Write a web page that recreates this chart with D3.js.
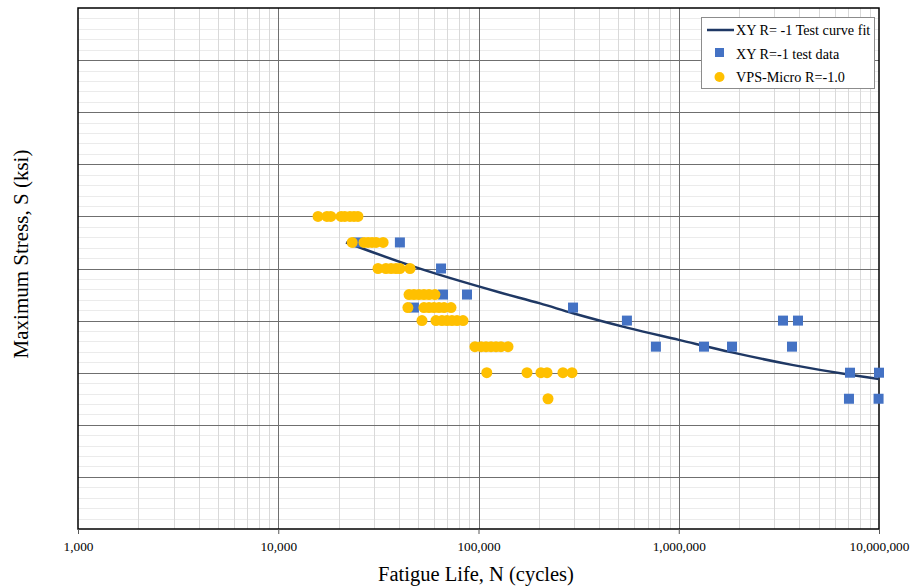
<!DOCTYPE html>
<html>
<head>
<meta charset="utf-8">
<script src="https://cdn.jsdelivr.net/npm/d3@7"></script>
<style>
  html, body { margin: 0; padding: 0; background: #fff; }
  svg { display: block; font-family: "Liberation Serif", "Times New Roman", serif; }
</style>
</head>
<body>
<svg id="chart" width="911" height="587"></svg>
<script>
// ---- Data ----
const xTickValues = [1000, 10000, 100000, 1000000, 10000000];

// XY R=-1 test curve fit
const curveN = [21800, 45500, 128000, 203000, 296500, 557000, 1000000, 1845000, 3677000, 7165000, 10000000];
const curveS = [55.0, 50.6, 45.4, 43.3, 41.4, 38.6, 36.3, 33.9, 31.5, 29.6, 28.8];

// XY R=-1 test data
const blueN = [25000, 40500, 65000, 66500, 87600, 47600, 296500, 551000, 769000, 1337000, 1845000, 3316000, 3939000, 3677000, 7165000, 10000000, 7080000, 9950000];
const blueS = [55, 55, 50, 45, 45, 42.5, 42.5, 40, 35, 35, 35, 40, 40, 35, 30, 30, 25, 25];

// VPS-Micro R=-1.0
const yellowN = [
  15800, 17500, 18300, 20600, 21500, 22800, 23900, 25000,
  23400, 26800, 28100, 29400, 30800, 33400,
  31500, 34500, 36600, 38700, 40500, 45500,
  45000, 47600, 50400, 53400, 56600, 60600,
  44400, 53400, 56600, 59900, 63500, 67300, 72900,
  52200, 61300, 65700, 69600, 73700, 78100, 83700,
  96000, 103000, 109000, 115500, 122300, 129500, 140400,
  110000, 174700, 205000, 219900, 264000, 293000,
  222400
];
const yellowS = [
  60, 60, 60, 60, 60, 60, 60, 60,
  55, 55, 55, 55, 55, 55,
  50, 50, 50, 50, 50, 50,
  45, 45, 45, 45, 45, 45,
  42.5, 42.5, 42.5, 42.5, 42.5, 42.5, 42.5,
  40, 40, 40, 40, 40, 40, 40,
  35, 35, 35, 35, 35, 35, 35,
  30, 30, 30, 30, 30, 30,
  25
];

const legendLabels = ["XY R= -1 Test curve fit", "XY R=-1 test data", "VPS-Micro R=-1.0"];

// ---- Layout ----
const svg = d3.select("#chart");
const m = { left: 78, right: 879, top: 8, bottom: 529 };
const x = d3.scaleLog().domain([1000, 10000000]).range([m.left, m.right]);
const y = d3.scaleLinear().domain([0, 100]).range([m.bottom, m.top]);

const curveCol = "#1F3864", blueCol = "#4472C4", yellowCol = "#FFC000";

// Grid
const grid = svg.append("g");
grid.selectAll("line.hmin").data(d3.range(0, 101, 2).filter(v => v % 10 !== 0))
  .join("line").attr("x1", m.left).attr("x2", m.right)
  .attr("y1", d => Math.round(y(d)) + 0.5).attr("y2", d => Math.round(y(d)) + 0.5)
  .attr("stroke", "#ebebeb").attr("stroke-width", 1);
const minorX = [];
for (let e = 3; e < 7; e++) for (let k = 2; k <= 9; k++) minorX.push(k * Math.pow(10, e));
grid.selectAll("line.vmin").data(minorX)
  .join("line").attr("y1", m.top).attr("y2", m.bottom)
  .attr("x1", d => Math.round(x(d)) + 0.5).attr("x2", d => Math.round(x(d)) + 0.5)
  .attr("stroke", "#d9d9d9").attr("stroke-width", 1);
grid.selectAll("line.hmaj").data(d3.range(10, 100, 10))
  .join("line").attr("x1", m.left).attr("x2", m.right)
  .attr("y1", d => Math.round(y(d)) + 0.5).attr("y2", d => Math.round(y(d)) + 0.5)
  .attr("stroke", "#6f6f6f").attr("stroke-width", 1);
grid.selectAll("line.vmaj").data(xTickValues.slice(1, -1))
  .join("line").attr("y1", m.top).attr("y2", m.bottom)
  .attr("x1", d => Math.round(x(d)) + 0.5).attr("x2", d => Math.round(x(d)) + 0.5)
  .attr("stroke", "#6f6f6f").attr("stroke-width", 1);

// Border
svg.append("rect").attr("x", m.left).attr("y", m.top)
  .attr("width", m.right - m.left).attr("height", m.bottom - m.top)
  .attr("fill", "none").attr("stroke", "#000").attr("stroke-width", 1.5);

// X axis
const xAxis = d3.axisBottom(x).tickValues(xTickValues).tickFormat(d3.format(",")).tickSizeOuter(0).tickSize(5);
const gx = svg.append("g").attr("transform", `translate(0,${m.bottom})`).call(xAxis);
gx.select(".domain").remove();
gx.selectAll(".tick line").attr("stroke", "#595959");
gx.selectAll(".tick text").attr("fill", "#000").attr("font-size", 13.3)
  .attr("font-family", "'Liberation Serif', 'Times New Roman', serif").attr("y", 13);

// Axis titles
svg.append("text").attr("x", 476).attr("y", 581)
  .attr("text-anchor", "middle").attr("font-size", 20.5).attr("fill", "#000")
  .text("Fatigue Life, N (cycles)");
svg.append("text").attr("transform", `translate(28,${254}) rotate(-90)`)
  .attr("text-anchor", "middle").attr("font-size", 21).attr("fill", "#000")
  .text("Maximum Stress, S (ksi)");

// Curve
const curveData = curveN.map((n, i) => ({ n, s: curveS[i] }));
svg.append("path").datum(curveData)
  .attr("d", d3.line().x(d => x(d.n)).y(d => y(d.s)).curve(d3.curveMonotoneX))
  .attr("fill", "none").attr("stroke", curveCol).attr("stroke-width", 2.5);

// Blue squares
const sq = 10;
const blueData = blueN.map((n, i) => ({ n, s: blueS[i] }));
svg.append("g").selectAll("rect").data(blueData).join("rect")
  .attr("x", d => x(d.n) - sq / 2).attr("y", d => y(d.s) - sq / 2)
  .attr("width", sq).attr("height", sq).attr("fill", blueCol);

// Yellow circles
const yellowData = yellowN.map((n, i) => ({ n, s: yellowS[i] }));
svg.append("g").selectAll("circle").data(yellowData).join("circle")
  .attr("cx", d => x(d.n)).attr("cy", d => y(d.s)).attr("r", 5.5).attr("fill", yellowCol);

// Legend
const lg = svg.append("g");
lg.append("rect").attr("x", 701.5).attr("y", 17.5).attr("width", 173).attr("height", 71)
  .attr("fill", "#fff").attr("stroke", "#8c8c8c").attr("stroke-width", 1);
lg.append("line").attr("x1", 707).attr("x2", 734).attr("y1", 30).attr("y2", 30)
  .attr("stroke", curveCol).attr("stroke-width", 2.5);
lg.append("rect").attr("x", 715).attr("y", 48).attr("width", 9).attr("height", 9).attr("fill", blueCol);
lg.append("circle").attr("cx", 719.5).attr("cy", 77).attr("r", 5).attr("fill", yellowCol);
lg.selectAll("text").data(legendLabels).join("text")
  .attr("x", 736).attr("y", (d, i) => 35 + i * 23.5)
  .attr("font-size", 14.2).attr("fill", "#000").text(d => d);
</script>
</body>
</html>
